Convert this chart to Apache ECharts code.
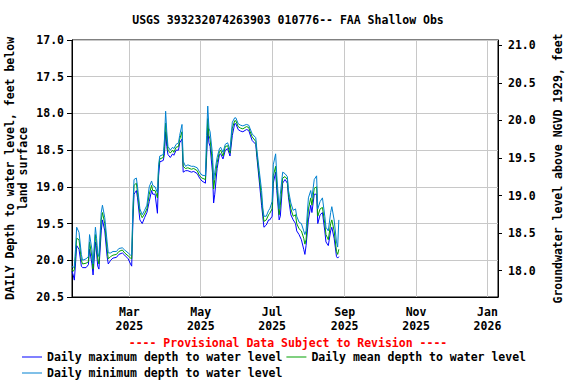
<!DOCTYPE html>
<html>
<head>
<meta charset="utf-8">
<script src="https://cdn.jsdelivr.net/npm/echarts@6/dist/echarts.min.js"></script>
<style>html,body{margin:0;padding:0;background:#fff}#c{width:576px;height:384px}</style>
</head>
<body>
<div id="c"></div>
<script>
const titleText = 'USGS 393232074263903 010776-- FAA Shallow Obs';
const provisionalText = '---- Provisional Data Subject to Revision ----';
const seriesNames = ['Daily maximum depth to water level', 'Daily mean depth to water level', 'Daily minimum depth to water level'];
const seriesColors = ['#0000ff', '#00a000', '#0080d0'];
const xMin = '2025-01-11';
const xMax = '2026-01-10';
const xTickDates = ['2025-03-01', '2025-05-01', '2025-07-01', '2025-09-01', '2025-11-01', '2026-01-01'];
const xTickLabels = ['Mar\n2025', 'May\n2025', 'Jul\n2025', 'Sep\n2025', 'Nov\n2025', 'Jan\n2026'];
const rightTicks = [18.0, 18.5, 19.0, 19.5, 20.0, 20.5, 21.0];

const dates = ['2025-01-11','2025-01-12','2025-01-13','2025-01-14','2025-01-15','2025-01-17','2025-01-19','2025-01-20','2025-01-23','2025-01-25',
'2025-01-26','2025-01-28','2025-01-29','2025-01-31','2025-02-01','2025-02-02','2025-02-03','2025-02-05','2025-02-06','2025-02-08',
'2025-02-10','2025-02-11','2025-02-13','2025-02-15','2025-02-18','2025-02-20','2025-02-23','2025-02-25','2025-02-28','2025-03-02',
'2025-03-03','2025-03-04','2025-03-05','2025-03-07','2025-03-08','2025-03-10','2025-03-12','2025-03-14','2025-03-16','2025-03-18',
'2025-03-20','2025-03-21','2025-03-23','2025-03-25','2025-03-26','2025-03-27','2025-03-30','2025-03-31','2025-04-01','2025-04-02',
'2025-04-03','2025-04-05','2025-04-07','2025-04-08','2025-04-10','2025-04-12','2025-04-13','2025-04-15','2025-04-16','2025-04-18',
'2025-04-20','2025-04-23','2025-04-25','2025-04-28','2025-04-30','2025-05-02','2025-05-05','2025-05-06','2025-05-07','2025-05-08',
'2025-05-09','2025-05-11','2025-05-12','2025-05-13','2025-05-15','2025-05-17','2025-05-18','2025-05-20','2025-05-22','2025-05-24',
'2025-05-26','2025-05-28','2025-05-30','2025-05-31','2025-06-02','2025-06-04','2025-06-06','2025-06-09','2025-06-11','2025-06-12',
'2025-06-14','2025-06-17','2025-06-18','2025-06-20','2025-06-22','2025-06-23','2025-06-24','2025-06-26','2025-06-28','2025-06-29',
'2025-07-01','2025-07-02','2025-07-04','2025-07-05','2025-07-07','2025-07-08','2025-07-10','2025-07-12','2025-07-14','2025-07-15',
'2025-07-17','2025-07-19','2025-07-21','2025-07-22','2025-07-24','2025-07-26','2025-07-28','2025-07-29','2025-07-30','2025-08-01',
'2025-08-03','2025-08-04','2025-08-06','2025-08-08','2025-08-09','2025-08-11','2025-08-13','2025-08-15','2025-08-16','2025-08-18',
'2025-08-20','2025-08-21','2025-08-23','2025-08-25','2025-08-26','2025-08-27'];

const meanDepth = [20.12,20.15,20.13,19.95,19.70,19.72,20.00,20.05,20.04,20.02,
19.75,19.95,20.12,19.65,19.80,19.98,20.05,19.45,19.35,19.50,
19.85,19.98,19.95,19.93,19.92,19.88,19.86,19.90,19.94,19.97,
19.98,19.40,18.98,18.95,19.08,19.35,19.42,19.37,19.30,19.10,
18.98,19.05,19.05,19.15,18.75,18.62,18.60,18.45,18.13,18.35,
18.50,18.54,18.50,18.53,18.46,18.45,18.35,18.25,18.72,18.75,
18.74,18.76,18.75,18.78,18.85,18.88,18.90,18.50,18.07,18.30,
18.35,18.67,19.03,18.90,18.67,18.52,18.50,18.58,18.45,18.44,
18.54,18.20,18.10,18.10,18.18,18.20,18.21,18.18,18.19,18.24,
18.32,18.38,18.55,18.85,19.15,19.33,19.47,19.45,19.38,19.36,
19.30,18.85,18.72,18.96,19.38,19.25,18.88,18.86,18.90,19.10,
19.30,19.40,19.38,19.50,19.57,19.60,19.70,19.78,19.72,19.30,
19.15,19.25,19.02,19.00,19.40,19.30,19.28,19.50,19.65,19.72,
19.50,19.45,19.60,19.88,19.92,19.85];

const maxDepth = [20.15,20.20,20.27,20.05,19.80,19.85,20.08,20.10,20.10,20.06,
19.85,20.05,20.20,19.75,19.90,20.08,20.12,19.60,19.45,19.60,
19.95,20.05,20.00,19.97,19.96,19.92,19.90,19.93,19.98,20.05,
20.08,19.50,19.10,19.05,19.15,19.45,19.50,19.42,19.35,19.20,
19.05,19.10,19.10,19.36,18.85,18.66,18.64,18.55,18.25,18.45,
18.56,18.60,18.55,18.57,18.50,18.50,18.40,18.35,18.80,18.78,
18.78,18.80,18.79,18.82,18.88,18.92,18.95,18.60,18.20,18.40,
18.45,18.80,19.22,19.10,18.75,18.56,18.55,18.62,18.50,18.48,
18.58,18.30,18.14,18.14,18.22,18.24,18.25,18.22,18.23,18.28,
18.37,18.42,18.60,18.92,19.25,19.40,19.55,19.52,19.45,19.45,
19.40,18.95,18.80,19.05,19.45,19.40,18.95,18.90,18.95,19.15,
19.38,19.45,19.50,19.60,19.65,19.72,19.85,19.92,19.80,19.45,
19.25,19.35,19.10,19.10,19.50,19.38,19.35,19.60,19.75,19.80,
19.60,19.55,19.70,19.95,19.97,19.95];

const minDepth = [20.08,20.10,20.08,19.85,19.55,19.62,19.92,20.00,19.98,19.95,
19.65,19.85,20.05,19.55,19.70,19.90,19.95,19.35,19.25,19.42,
19.75,19.90,19.90,19.88,19.88,19.84,19.83,19.86,19.90,19.93,
19.92,19.30,18.90,18.88,19.00,19.30,19.38,19.32,19.25,19.00,
18.92,18.98,19.00,19.08,18.70,18.58,18.56,18.35,17.97,18.25,
18.45,18.50,18.46,18.48,18.42,18.40,18.30,18.15,18.65,18.72,
18.70,18.72,18.72,18.74,18.80,18.84,18.85,18.30,17.90,18.20,
18.25,18.55,18.90,18.80,18.60,18.48,18.46,18.53,18.42,18.40,
18.50,18.12,18.06,18.06,18.14,18.16,18.17,18.15,18.16,18.20,
18.28,18.33,18.50,18.78,19.05,19.28,19.40,19.40,19.32,19.30,
19.20,18.70,18.55,18.85,19.30,19.10,18.80,18.82,18.86,19.05,
19.22,19.32,19.30,19.40,19.48,19.50,19.60,19.65,19.60,19.15,
19.05,19.15,18.90,18.85,19.30,19.20,19.15,19.40,19.55,19.60,
19.35,19.27,19.45,19.75,19.82,19.45];

const FONT = '"DejaVu Sans Mono", monospace';
const parseLocal = s => { const p = s.split('-').map(Number); return new Date(p[0], p[1] - 1, p[2]).getTime(); };
const xTickValues = xTickDates.map(parseLocal);
const pair = arr => dates.map((d, i) => [parseLocal(d), arr[i]]);

const chart = echarts.init(document.getElementById('c'), null, {renderer: 'svg'});
chart.setOption({
  animation: false,
  backgroundColor: '#fff',
  textStyle: {fontFamily: FONT},
  title: [{
    text: titleText, left: 'center', top: 9,
    textStyle: {fontFamily: FONT, fontSize: 11.5, fontWeight: 'bold', color: '#000'}
  }, {
    text: provisionalText, left: 'center', top: 332,
    textStyle: {fontFamily: FONT, fontSize: 11.5, fontWeight: 'bold', color: '#ff0000'}
  }],
  legend: {
    left: 17, top: 346, width: 530, itemWidth: 20, itemHeight: 1, itemGap: 4,
    icon: 'rect',
    data: seriesNames.map((n, i) => ({name: n, itemStyle: {color: seriesColors[i]}})),
    textStyle: {fontFamily: FONT, fontSize: 11.5, fontWeight: 'bold', color: '#000'}
  },
  grid: {left: 72, right: 78, top: 40, bottom: 87, outerBoundsMode: 'none', containLabel: false, show: true, borderColor: '#000', borderWidth: 1, backgroundColor: 'transparent'},
  xAxis: {
    type: 'value', min: parseLocal(xMin), max: parseLocal(xMax),
    axisLine: {lineStyle: {color: '#000'}},
    axisTick: {show: false, customValues: xTickValues},
    splitLine: {show: true, lineStyle: {color: '#c8c8c8', width: 1}},
    axisLabel: {
      customValues: xTickValues, margin: 8, lineHeight: 14,
      fontFamily: FONT, fontSize: 11.5, fontWeight: 'bold', color: '#000',
      formatter: v => { const i = xTickValues.indexOf(v); return i >= 0 ? xTickLabels[i] : ''; }
    }
  },
  yAxis: [{
    type: 'value', inverse: true, min: 17, max: 20.5, interval: 0.5,
    name: 'DAILY Depth to water level, feet below\nland surface',
    nameLocation: 'middle', nameGap: 43, nameMoveOverlap: false,
    nameTextStyle: {fontFamily: FONT, fontSize: 11.5, fontWeight: 'bold', color: '#000', lineHeight: 13},
    axisLine: {show: true, lineStyle: {color: '#000'}},
    axisTick: {show: true, length: 5, lineStyle: {color: '#000'}},
    splitLine: {show: true, lineStyle: {color: '#c8c8c8', width: 1}},
    axisLabel: {margin: 8, fontFamily: FONT, fontSize: 11.5, fontWeight: 'bold', color: '#000', formatter: v => v.toFixed(1)}
  }, {
    type: 'value', position: 'right', min: 17.65, max: 21.07,
    name: 'Groundwater level above NGVD 1929, feet',
    nameLocation: 'middle', nameGap: 54, nameRotate: 90,
    nameTextStyle: {fontFamily: FONT, fontSize: 11.5, fontWeight: 'bold', color: '#000'},
    axisLine: {show: true, lineStyle: {color: '#000'}},
    axisTick: {show: true, length: 4, customValues: rightTicks, lineStyle: {color: '#000'}},
    splitLine: {show: false},
    axisLabel: {customValues: rightTicks, margin: 10, fontFamily: FONT, fontSize: 11.5, fontWeight: 'bold', color: '#000', formatter: v => v.toFixed(1)}
  }],
  series: [
    {name: seriesNames[0], type: 'line', data: pair(maxDepth), showSymbol: false, lineStyle: {width: 1, color: seriesColors[0]}, itemStyle: {color: seriesColors[0]}},
    {name: seriesNames[1], type: 'line', data: pair(meanDepth), showSymbol: false, lineStyle: {width: 1, color: seriesColors[1]}, itemStyle: {color: seriesColors[1]}},
    {name: seriesNames[2], type: 'line', data: pair(minDepth), showSymbol: false, lineStyle: {width: 1, color: seriesColors[2]}, itemStyle: {color: seriesColors[2]}}
  ]
});
</script>
</body>
</html>
